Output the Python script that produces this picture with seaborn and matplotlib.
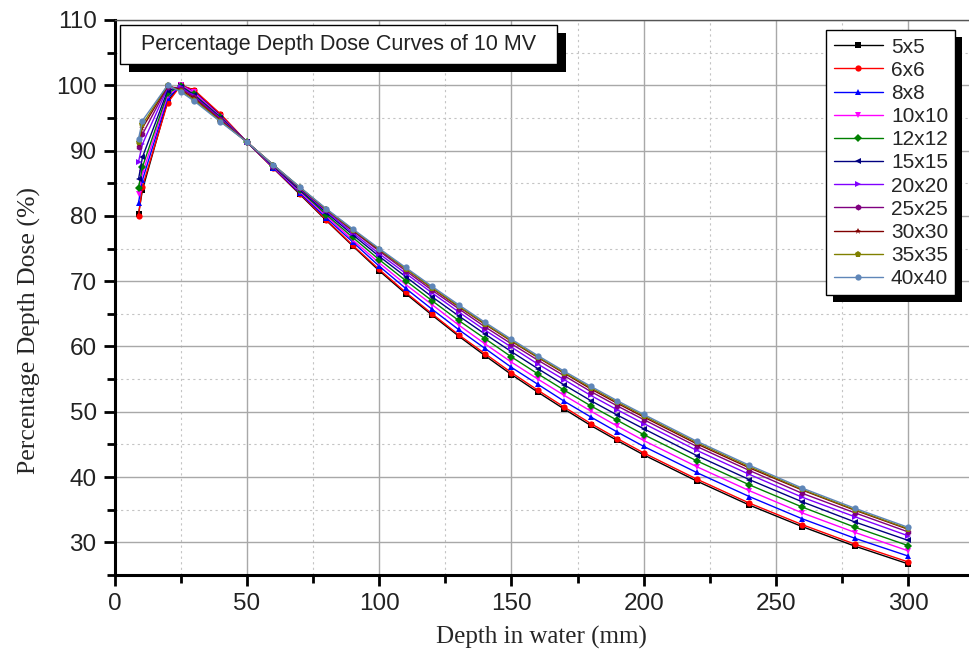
import numpy as np
import pandas as pd
import matplotlib
matplotlib.use("Agg")
import matplotlib.pyplot as plt
from matplotlib.patches import Rectangle
from matplotlib.transforms import IdentityTransform
from matplotlib.ticker import MultipleLocator
import seaborn as sns

# depth points (mm)
depth = [9, 10.5, 20, 25, 30, 40, 50, 60, 70, 80, 90, 100, 110, 120, 130, 140,
         150, 160, 170, 180, 190, 200, 220, 240, 260, 280, 300]

fields = ["5x5", "6x6", "8x8", "10x10", "12x12", "15x15",
          "20x20", "25x25", "30x30", "35x35", "40x40"]

# percentage depth dose
pdd_5x5 = [80.3, 84.0, 97.6, 100.0, 99.2, 95.5, 91.3, 87.3, 83.3, 79.3, 75.4, 71.6, 68.1, 64.8,
           61.6, 58.6, 55.7, 53.0, 50.4, 47.9, 45.6, 43.4, 39.4, 35.7, 32.4, 29.4, 26.7]
pdd_6x6 = [80.0, 84.5, 97.3, 100.0, 99.3, 95.6, 91.3, 87.3, 83.4, 79.4, 75.5, 71.8, 68.3, 65.0,
           61.8, 58.9, 56.0, 53.3, 50.7, 48.2, 45.9, 43.7, 39.7, 36.0, 32.7, 29.7, 27.0]
pdd_8x8 = [82.0, 85.5, 98.0, 100.0, 99.0, 95.3, 91.3, 87.4, 83.5, 79.7, 76.0, 72.3, 68.9, 65.7,
           62.6, 59.7, 56.8, 54.2, 51.6, 49.2, 46.9, 44.7, 40.7, 37.0, 33.6, 30.6, 27.9]
pdd_10x10 = [83.3, 86.5, 98.4, 100.0, 98.9, 95.2, 91.3, 87.5, 83.7, 80.0, 76.3, 72.8, 69.5, 66.4,
             63.3, 60.4, 57.6, 55.0, 52.5, 50.1, 47.8, 45.6, 41.6, 37.9, 34.5, 31.5, 28.7]
pdd_12x12 = [84.3, 87.5, 98.8, 99.9, 98.6, 95.1, 91.3, 87.6, 83.9, 80.2, 76.7, 73.3, 70.1, 67.0,
             64.0, 61.2, 58.4, 55.8, 53.3, 50.9, 48.7, 46.5, 42.5, 38.8, 35.4, 32.3, 29.5]
pdd_15x15 = [85.6, 89.0, 99.2, 99.8, 98.5, 95.0, 91.3, 87.6, 84.0, 80.5, 77.1, 73.8, 70.7, 67.6,
             64.7, 61.9, 59.2, 56.6, 54.1, 51.7, 49.5, 47.4, 43.3, 39.6, 36.2, 33.1, 30.3]
pdd_20x20 = [88.3, 91.0, 99.6, 99.7, 98.3, 94.9, 91.3, 87.7, 84.2, 80.7, 77.4, 74.2, 71.2, 68.2,
             65.3, 62.5, 59.9, 57.3, 54.9, 52.5, 50.3, 48.2, 44.1, 40.4, 36.9, 33.9, 31.0]
pdd_25x25 = [90.5, 92.5, 99.8, 99.5, 98.2, 94.8, 91.3, 87.7, 84.3, 80.9, 77.7, 74.6, 71.6, 68.6,
             65.8, 63.0, 60.4, 57.9, 55.5, 53.1, 50.9, 48.8, 44.7, 41.0, 37.5, 34.5, 31.6]
pdd_30x30 = [91.0, 93.5, 99.9, 99.3, 98.0, 94.6, 91.3, 87.8, 84.3, 81.0, 77.8, 74.8, 71.9, 68.9,
             66.1, 63.4, 60.8, 58.3, 55.9, 53.5, 51.3, 49.2, 45.1, 41.4, 38.0, 34.9, 32.0]
pdd_35x35 = [91.3, 94.0, 100.0, 99.1, 97.8, 94.5, 91.3, 87.8, 84.4, 81.0, 77.9, 74.9, 71.9, 69.0,
             66.2, 63.5, 60.9, 58.4, 56.0, 53.7, 51.5, 49.4, 45.3, 41.6, 38.1, 35.0, 32.1]
pdd_40x40 = [91.8, 94.6, 100.0, 99.0, 97.6, 94.4, 91.3, 87.8, 84.4, 81.1, 78.0, 75.0, 72.1, 69.2,
             66.4, 63.7, 61.1, 58.6, 56.2, 53.9, 51.7, 49.6, 45.5, 41.8, 38.3, 35.2, 32.3]

all_pdd = [pdd_5x5, pdd_6x6, pdd_8x8, pdd_10x10, pdd_12x12, pdd_15x15,
           pdd_20x20, pdd_25x25, pdd_30x30, pdd_35x35, pdd_40x40]

colors = ["#000000", "#ff0000", "#0000ff", "#ff00ff", "#008000", "#000080",
          "#8000ff", "#800080", "#800000", "#808000", "#5f86b8"]
markers = ["s", "o", "^", "v", "D", "<", ">", "h", "*", "p", "o"]

rows = []
for f, vals in zip(fields, all_pdd):
    for d, v in zip(depth, vals):
        rows.append({"depth": d, "pdd": v, "field": f})
df = pd.DataFrame(rows)

sns.set_theme(style="ticks")
plt.rcParams["font.family"] = ["Liberation Sans", "DejaVu Sans"]

fig = plt.figure(figsize=(9.69, 6.55), dpi=100)
ax = fig.add_axes([114.7 / 969, 80 / 655, 854.3 / 969, 555 / 655])

sns.lineplot(data=df, x="depth", y="pdd", hue="field", style="field",
             hue_order=fields, style_order=fields,
             palette=dict(zip(fields, colors)), markers=dict(zip(fields, markers)),
             dashes=False, linewidth=1.0, markersize=4.5, markeredgewidth=0,
             ax=ax)

ax.set_xlim(0, 323)
ax.set_ylim(25, 110)
ax.xaxis.set_major_locator(MultipleLocator(50))
ax.xaxis.set_minor_locator(MultipleLocator(25))
ax.yaxis.set_minor_locator(MultipleLocator(5))
ax.set_yticks(range(30, 111, 10))

ax.grid(which="major", color="#a8a8a8", linewidth=1.0)
ax.grid(which="minor", color="#c4c4c4", linewidth=0.8, linestyle=(0, (2, 3)))
ax.set_axisbelow(True)

for side in ["left", "bottom"]:
    ax.spines[side].set_linewidth(2.2)
    ax.spines[side].set_color("black")
ax.spines["right"].set_visible(False)
ax.spines["top"].set_linewidth(1.0)
ax.spines["top"].set_color("#555555")

ax.tick_params(which="major", direction="out", length=8, width=2, labelsize=17.5,
               colors="black", labelcolor="#222222")
ax.tick_params(which="minor", direction="out", length=6, width=2, colors="black")
ax.tick_params(axis="x", pad=5)
ax.tick_params(axis="y", pad=5)

ax.set_xlabel("Depth in water (mm)", fontsize=18, family="Liberation Serif")
ax.set_ylabel("Percentage Depth Dose (%)", fontsize=18.5, family="Liberation Serif")
ax.xaxis.set_label_coords(0.5, -0.092)
ax.yaxis.set_label_coords(-0.086, 0.44)

# title box with a black drop shadow
ax.add_patch(Rectangle((0.0168, 0.9063), 0.5117, 0.0704, transform=ax.transAxes,
                       facecolor="black", edgecolor="none", zorder=6))
ax.add_patch(Rectangle((0.0063, 0.9207), 0.5117, 0.0704, transform=ax.transAxes,
                       facecolor="white", edgecolor="black", linewidth=1.0, zorder=7))
ax.text(0.262, 0.956, "Percentage Depth Dose Curves of 10 MV", transform=ax.transAxes,
        ha="center", va="center", fontsize=15.5, color="#222222", zorder=8)

handles, labels = ax.get_legend_handles_labels()
leg = ax.legend(handles, labels, loc="upper left", bbox_to_anchor=(0.833, 0.9816),
                fontsize=15, frameon=True, fancybox=False, framealpha=1,
                edgecolor="black", handlelength=2.35, handletextpad=0.4,
                labelspacing=0.2, borderpad=0.35, borderaxespad=0)
leg.get_frame().set_linewidth(1.0)
leg.set_zorder(10)

fig.canvas.draw()
bb = leg.get_frame().get_window_extent()
shadow = Rectangle((bb.x0 + 7, bb.y0 - 7), bb.width, bb.height, transform=IdentityTransform(),
                   facecolor="black", edgecolor="none", zorder=9)
ax.add_artist(shadow)
shadow.set_clip_on(False)

fig.savefig("out.png", dpi=100)
